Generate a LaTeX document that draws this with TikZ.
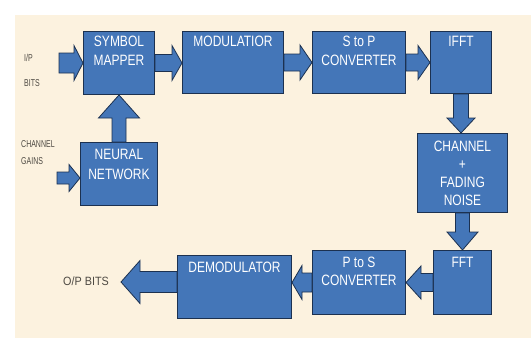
\documentclass[tikz,border=0pt]{standalone}
\usepackage{fontspec}
\setmainfont{Liberation Sans}
\newfontfamily\boxfont[FakeStretch=0.8]{Liberation Sans}
\newfontfamily\sidefont[FakeStretch=0.7]{Liberation Sans}
\newfontfamily\opfont[FakeStretch=0.9]{Liberation Sans}
\usetikzlibrary{calc}
\definecolor{bg}{HTML}{FCF2DF}
\definecolor{boxblue}{HTML}{4476B8}
\definecolor{boxedge}{HTML}{1C3150}
\definecolor{lblgray}{HTML}{4E4A43}
\newcommand\fatarrow[5]{%
  \filldraw[fatarr] let \p1=(#1), \p2=(#2),
    \n1={veclen(\x2-\x1,\y2-\y1)},
    \n3={(\x2-\x1)/\n1}, \n4={(\y2-\y1)/\n1},
    \p3=({\x2-\n3*#5},{\y2-\n4*#5}) in
    ({\x1-\n4*#3},{\y1+\n3*#3}) -- ({\x3-\n4*#3},{\y3+\n3*#3}) --
    ({\x3-\n4*#4},{\y3+\n3*#4}) -- (\p2) --
    ({\x3+\n4*#4},{\y3-\n3*#4}) -- ({\x3+\n4*#3},{\y3-\n3*#3}) --
    ({\x1+\n4*#3},{\y1-\n3*#3}) -- cycle;}
\begin{document}
\begin{tikzpicture}[x=1pt,y=-1pt,
  box/.style={draw=boxedge, fill=boxblue, line width=1pt, inner sep=0pt, anchor=north west},
  boxtxt/.style={text=white, font=\boxfont\fontsize{15}{19}\selectfont, align=center, inner sep=0pt},
  side/.style={text=lblgray, font=\sidefont\fontsize{10}{11}\selectfont, inner sep=0pt, anchor=west},
  fatarr/.style={fill=boxblue, draw=boxedge, line width=0.8pt, line join=miter}]
\useasboundingbox (0,0) rectangle (531,338);
\fill[white] (0,0) rectangle (531,338);
\fill[bg] (15,15) rectangle (531,338);

% top row
\node[box, minimum width=71pt, minimum height=63pt,
  label={[boxtxt, anchor=north, yshift=-5pt]north:SYMBOL\\MAPPER}] (sm) at (83,31) {};
\node[box, minimum width=101pt, minimum height=62pt,
  label={[boxtxt, anchor=north, yshift=-5pt]north:MODULATIOR}] (mod) at (182,31) {};
\node[box, minimum width=93pt, minimum height=62pt,
  label={[boxtxt, anchor=north, yshift=-5pt]north:S to P\\CONVERTER}] (sp) at (312,31) {};
\node[box, minimum width=61pt, minimum height=62pt,
  label={[boxtxt, anchor=north, yshift=-5pt]north:IFFT}] (ifft) at (430,31) {};

% neural network
\node[box, minimum width=77pt, minimum height=63pt,
  label={[boxtxt, font=\boxfont\fontsize{15}{20}\selectfont, anchor=north, yshift=-7pt]north:NEURAL\\NETWORK}] (nn) at (80,142) {};

% channel
\node[box, minimum width=90pt, minimum height=79pt, text=white, align=center,
  font=\boxfont\fontsize{15}{18}\selectfont] (ch) at (417,133) {CHANNEL\\+\\FADING\\NOISE};

% bottom row
\node[box, minimum width=58pt, minimum height=64pt,
  label={[boxtxt, anchor=north, yshift=-7pt]north:FFT}] (fft) at (433,250) {};
\node[box, minimum width=93pt, minimum height=64pt,
  label={[boxtxt, font=\boxfont\fontsize{15}{18}\selectfont, anchor=north, yshift=-7pt]north:P to S\\CONVERTER}] (ps) at (312,250) {};
\node[box, minimum width=114pt, minimum height=63pt,
  label={[boxtxt, anchor=north, yshift=-7pt]north:DEMODULATOR}] (dm) at (177,255) {};

% side labels
\node[side] (ip) at (24,58) {I/P};
\node[side] (bits) at (24,83) {BITS};
\node[side] (chg) at (21,144) {CHANNEL};
\node[side] (gains) at (21,161) {GAINS};
\node[text=lblgray, font=\opfont\fontsize{12}{13}\selectfont, inner sep=0pt, anchor=west] (op) at (63,281) {O/P BITS};

% free ends
\coordinate (ipstart) at (59,63);
\coordinate (cgstart) at (57,178);
\coordinate (opend) at (121,282);

% fat arrows
\fatarrow{ipstart}{ipstart -| sm.west}{10}{17.5}{9}
\fatarrow{cgstart}{cgstart -| nn.west}{6}{13.5}{11}
\fatarrow{sm.east}{sm.east -| mod.west}{8.5}{17.5}{10}
\fatarrow{nn.north}{nn.north |- sm.south}{7}{20.5}{23}
\fatarrow{mod.east}{mod.east -| sp.west}{8.5}{17.5}{12}
\fatarrow{sp.east}{sp.east -| ifft.west}{8.5}{17}{12}
\fatarrow{ifft.south}{ifft.south |- ch.north}{7.5}{14}{15}
\fatarrow{ch.south}{ch.south |- fft.north}{7}{15.5}{18}
\fatarrow{fft.west}{fft.west -| ps.east}{9}{16.5}{15}
\fatarrow{ps.west}{ps.west -| dm.east}{9.5}{17}{10}
\fatarrow{opend -| dm.west}{opend}{10.5}{21.5}{19}
\end{tikzpicture}
\end{document}
